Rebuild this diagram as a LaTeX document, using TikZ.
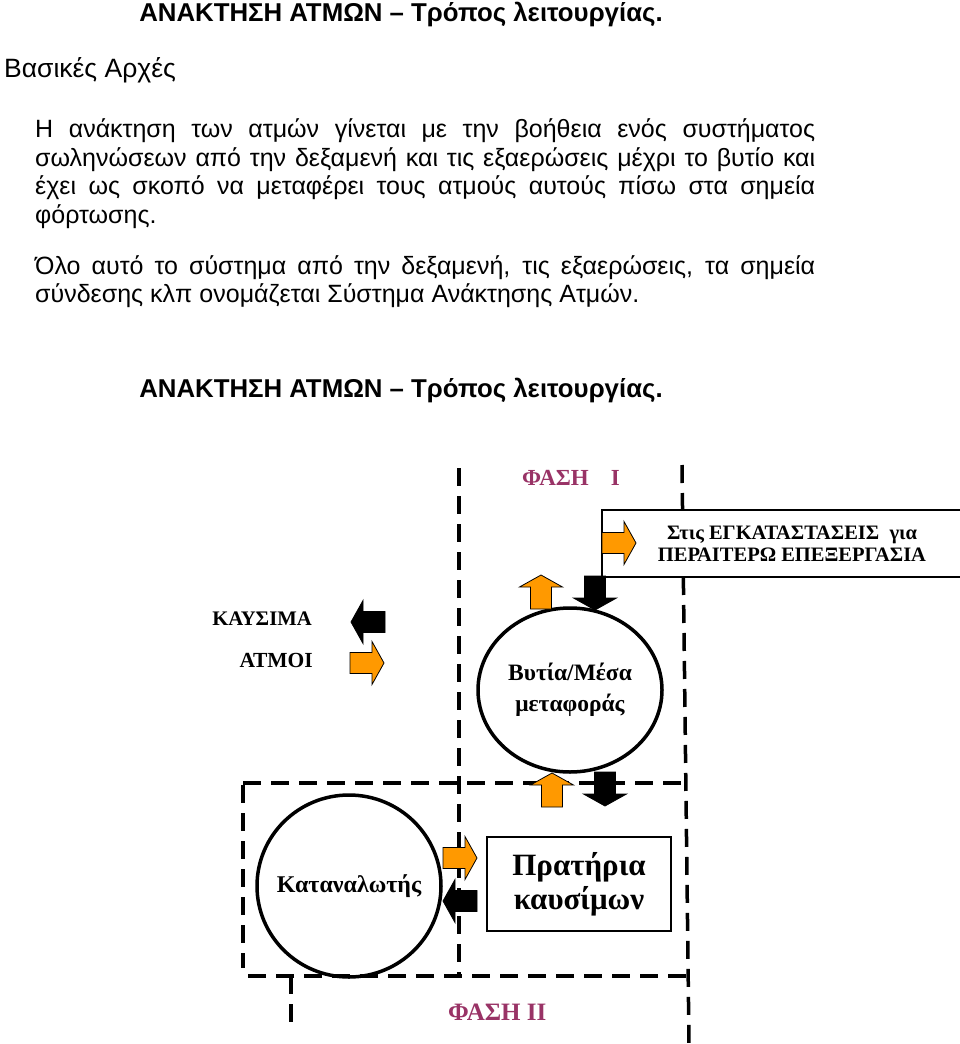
\documentclass[tikz,border=0pt]{standalone}
\usepackage{fontspec}
\setmainfont{Liberation Sans}
\newfontfamily\timesgr{Liberation Serif}
\usetikzlibrary{shapes.geometric}

\definecolor{steam}{HTML}{FF9900}
\definecolor{phase}{HTML}{993366}

\newcommand{\bodyfont}{\fontsize{25}{28}\selectfont\spaceskip=0.28em plus 1em minus 0.12em\relax}
\newcommand{\headfont}{\fontsize{25.8}{28}\selectfont\bfseries}
\newcommand{\diafont}[2]{\timesgr\bfseries\fontsize{#1}{#2}\selectfont}

\tikzset{
    pics/fatarrow/.style={code={
        \filldraw[fill=#1, draw=black, line width=0.8pt, line join=miter]
            (-17,-10.5) -- (5,-10.5) -- (5,-21.5) -- (17,0) -- (5,21.5) -- (5,10.5) -- (-17,10.5) -- cycle;
    }},
    border/.style={line width=3.5pt, dash pattern=on 18pt off 10pt},
    bodyline/.style={anchor=base west, font=\bodyfont, inner sep=0pt},
    ring/.style={ellipse, draw, line width=3.5pt, inner sep=0pt},
}

\begin{document}
\begin{tikzpicture}[x=1pt, y=-1pt]
    \clip (0,0) rectangle (960,1044);
    \fill[white] (0,0) rectangle (960,1044);

    % text above the diagram
    \node[anchor=base, font=\headfont, inner sep=0pt] (title1) at (401,21) {ΑΝΑΚΤΗΣΗ ΑΤΜΩΝ – Τρόπος λειτουργίας.};
    \node[anchor=base west, font=\fontsize{26.5}{28}\selectfont, inner sep=0pt] (basics) at (4,77) {Βασικές Αρχές};

    \node[bodyline] (p1a) at (35,137.5) {\makebox[780pt][s]{Η ανάκτηση των ατμών γίνεται με την βοήθεια ενός συστήματος}};
    \node[bodyline] (p1b) at (35,166) {\makebox[780pt][s]{σωληνώσεων από την δεξαμενή και τις εξαερώσεις μέχρι το βυτίο και}};
    \node[bodyline] (p1c) at (35,194.5) {\makebox[780pt][s]{έχει ως σκοπό να μεταφέρει τους ατμούς αυτούς πίσω στα σημεία}};
    \node[bodyline] (p1d) at (35,223) {φόρτωσης.};
    \node[bodyline] (p2a) at (35,274) {\makebox[780pt][s]{Όλο αυτό το σύστημα από την δεξαμενή, τις εξαερώσεις, τα σημεία}};
    \node[bodyline] (p2b) at (35,302.5) {σύνδεσης κλπ ονομάζεται Σύστημα Ανάκτησης Ατμών.};

    \node[anchor=base, font=\headfont, inner sep=0pt] (title2) at (401,397) {ΑΝΑΚΤΗΣΗ ΑΤΜΩΝ – Τρόπος λειτουργίας.};

    % phase borders
    \draw[border] (459,468) -- (459,975);
    \draw[border] (682,465) -- (689,1044);
    \draw[border] (243,783) -- (683,783);
    \draw[border] (243,785) -- (243,968);
    \draw[border] (248,976) -- (688,976);
    \draw[border] (291,976) -- (291,1022);

    \node[anchor=base west, text=phase, font=\diafont{23}{26}, inner sep=0pt] (phase1) at (522,485) {ΦΑΣΗ\hspace{22pt}Ι};
    \node[anchor=base west, text=phase, font=\diafont{25}{28}, inner sep=0pt] (phase2) at (448,1020) {ΦΑΣΗ ΙΙ};

    \node[draw, fill=white, line width=1.2pt, minimum width=380pt, minimum height=67pt, align=center, font=\diafont{20.5}{22}] (plant) at (792,543.5) {Στις ΕΓΚΑΤΑΣΤΑΣΕΙΣ\ \ για\\ΠΕΡΑΙΤΕΡΩ ΕΠΕΞΕΡΓΑΣΙΑ};

    \node[ring, minimum width=184pt, minimum height=164pt] (tanker) at (570,690) {};
    \node[align=center, font=\diafont{23.5}{31}] (tankerlabel) at (tanker.center) {Βυτία/Μέσα\\μεταφοράς};
    \node[ring, minimum width=184pt, minimum height=182pt] (consumer) at (349,886) {};
    \node[font=\diafont{24}{26}] (consumerlabel) at (consumer.center) {Καταναλωτής};
    \node[draw, line width=1.5pt, minimum width=184pt, minimum height=94pt, align=center, font=\diafont{31}{34}] (station) at (579,884) {Πρατήρια\\καυσίμων};

    \node[anchor=base east, font=\diafont{20.7}{22}, inner sep=0pt] (fuels) at (312,625) {ΚΑΥΣΙΜΑ};
    \node[anchor=base east, font=\diafont{21.5}{22}, inner sep=0pt] (vapours) at (313,667) {ΑΤΜΟΙ};

    % block arrows
    \pic at (619,543) {fatarrow=steam};
    \pic[rotate=90] at (541,592) {fatarrow=steam};
    \pic[rotate=-90] at (595,593) {fatarrow=black};
    \pic[rotate=180] at (368,622) {fatarrow=black};
    \pic at (367,663) {fatarrow=steam};
    \pic[rotate=90] at (552,790) {fatarrow=steam};
    \pic[rotate=-90] at (605,789) {fatarrow=black};
    \pic at (460,858) {fatarrow=steam};
    \pic[rotate=180] at (460,901) {fatarrow=black};
\end{tikzpicture}
\end{document}
